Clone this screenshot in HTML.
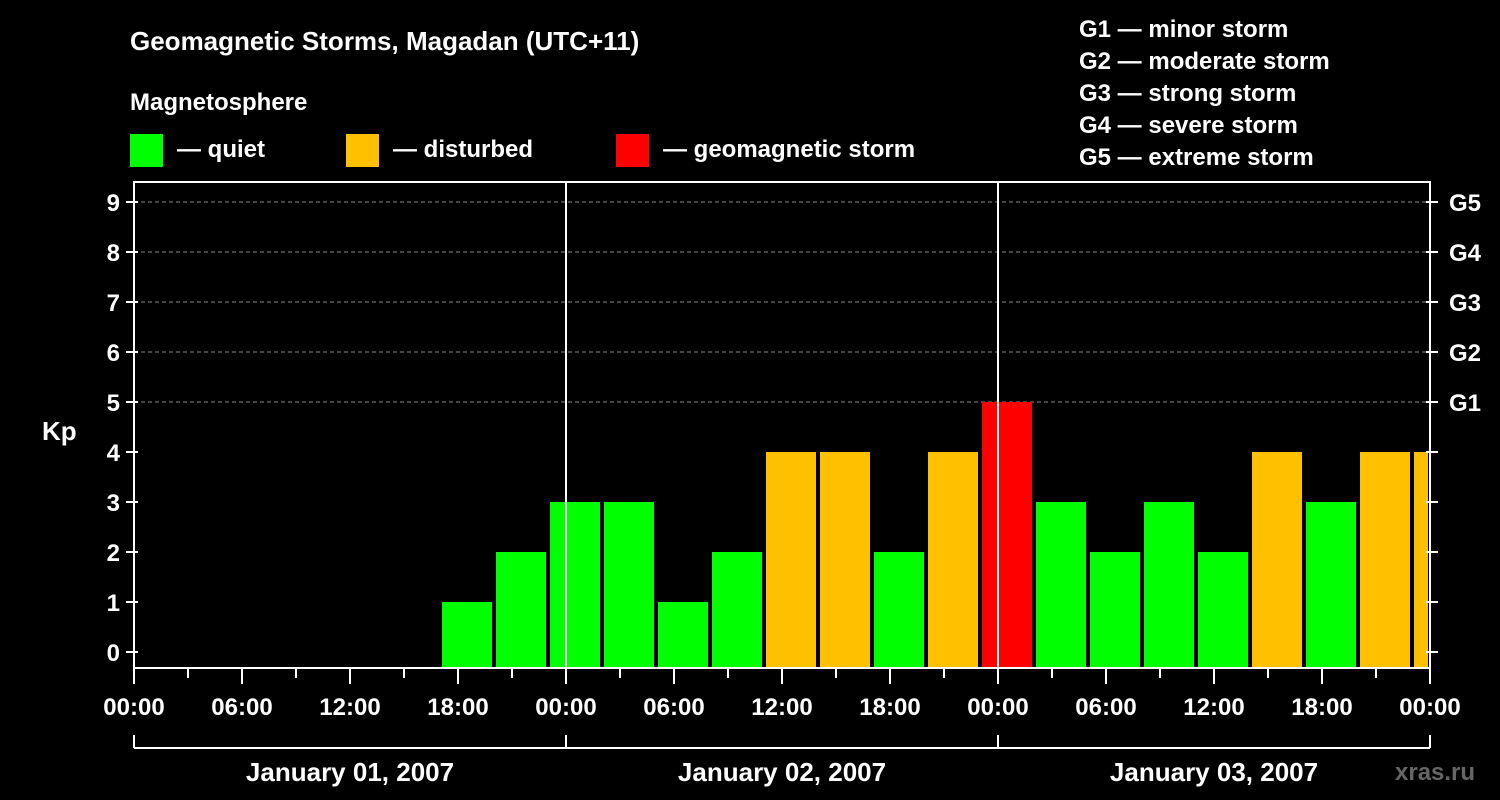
<!DOCTYPE html>
<html><head><meta charset="utf-8"><style>
body{margin:0;background:#000;}
svg{display:block;font-family:"Liberation Sans",Arial,sans-serif;font-weight:bold;}
</style></head><body>
<svg id="c" width="1500" height="800" viewBox="0 0 1500 800">
<rect width="1500" height="800" fill="#000"/>
<text x="130" y="50" fill="#fff" font-size="26">Geomagnetic Storms, Magadan (UTC+11)</text>
<text x="130" y="110" fill="#fff" font-size="24">Magnetosphere</text>
<rect x="130" y="134" width="33" height="33" fill="#00ff00"/>
<text x="177" y="157" fill="#fff" font-size="24">— quiet</text>
<rect x="346" y="134" width="33" height="33" fill="#ffc000"/>
<text x="393" y="157" fill="#fff" font-size="24">— disturbed</text>
<rect x="616" y="134" width="33" height="33" fill="#ff0000"/>
<text x="663" y="157" fill="#fff" font-size="24">— geomagnetic storm</text>
<g fill="#fff" font-size="24">
<text x="1079" y="37">G1 — minor storm</text>
<text x="1079" y="69">G2 — moderate storm</text>
<text x="1079" y="101">G3 — strong storm</text>
<text x="1079" y="133">G4 — severe storm</text>
<text x="1079" y="165">G5 — extreme storm</text>
</g>
<text x="42" y="440" fill="#fff" font-size="26">Kp</text>
<text x="1395" y="780" fill="#666" font-size="24">xras.ru</text>
<g id="plot"></g>
</svg>
<script>
const kpValues=[1,2,3,3,1,2,4,4,2,4,5,3,2,3,2,4,3,4,4];
const startHour=17; // first bar start hour from Jan 01 00:00 local
const dayLabels=["January 01, 2007","January 02, 2007","January 03, 2007"];
const gLabels=["G1","G2","G3","G4","G5"];
const NS="http://www.w3.org/2000/svg";
const L=134,R=1430,T=182,B=668;
const hx=h=>L+h*(R-L)/72;
const ky=v=>652-v*50;
const g=document.getElementById('plot');
function mk(t,a){const e=document.createElementNS(NS,t);for(const k in a)e.setAttribute(k,a[k]);g.appendChild(e);return e;}
// grid
for(let v=5;v<=9;v++){const e=mk('line',{x1:L,x2:R,y1:ky(v),y2:ky(v),stroke:'#888','stroke-dasharray':'4,3'});

}
// bars
kpValues.forEach((v,i)=>{
 const h0=startHour+i*3;
 let x0=hx(h0)+2,x1=Math.min(hx(h0+3)-2,R-2);
 const col=v>=5?'#ff0000':(v>=4?'#ffc000':'#00ff00');
 const r=mk('rect',{x:x0,y:ky(v),width:x1-x0,height:B-ky(v),fill:col});
 
 
});
// day lines
for(let d=1;d<=2;d++){const e=mk('line',{x1:hx(d*24),x2:hx(d*24),y1:T,y2:B,stroke:'#fff','stroke-width':2});

}
// frame
const f=mk('rect',{x:L,y:T,width:R-L,height:B-T,fill:'none',stroke:'#fff','stroke-width':2});


// y ticks
for(let v=0;v<=9;v++){
 mk('line',{x1:L-8,x2:L+4,y1:ky(v),y2:ky(v),stroke:'#fff','stroke-width':2});
 mk('line',{x1:R-4,x2:R+8,y1:ky(v),y2:ky(v),stroke:'#fff','stroke-width':2});
 const t=mk('text',{x:L-14,y:ky(v)+9,fill:'#fff','font-size':24,'text-anchor':'end'});t.textContent=v;
 
 
}
gLabels.forEach((s,i)=>{const t=mk('text',{x:R+19,y:ky(5+i)+9,fill:'#fff','font-size':24});t.textContent=s;

});
// x ticks
for(let h=0;h<=72;h+=3){
 mk('line',{x1:hx(h),x2:hx(h),y1:B,y2:B+(h%6?10:16),stroke:'#fff','stroke-width':2});
 if(h%6===0){const t=mk('text',{x:hx(h),y:715,fill:'#fff','font-size':24,'text-anchor':'middle'});
 t.textContent=String(h%24).padStart(2,'0')+':00';
 
 }
}
// day bracket
mk('line',{x1:L,x2:R,y1:748,y2:748,stroke:'#fff','stroke-width':2});
for(let d=0;d<=3;d++)mk('line',{x1:hx(d*24),x2:hx(d*24),y1:735,y2:748,stroke:'#fff','stroke-width':2});
dayLabels.forEach((s,d)=>{const t=mk('text',{x:hx(d*24+12),y:781,fill:'#fff','font-size':26,'text-anchor':'middle'});t.textContent=s;

});
</script>
</body></html>
